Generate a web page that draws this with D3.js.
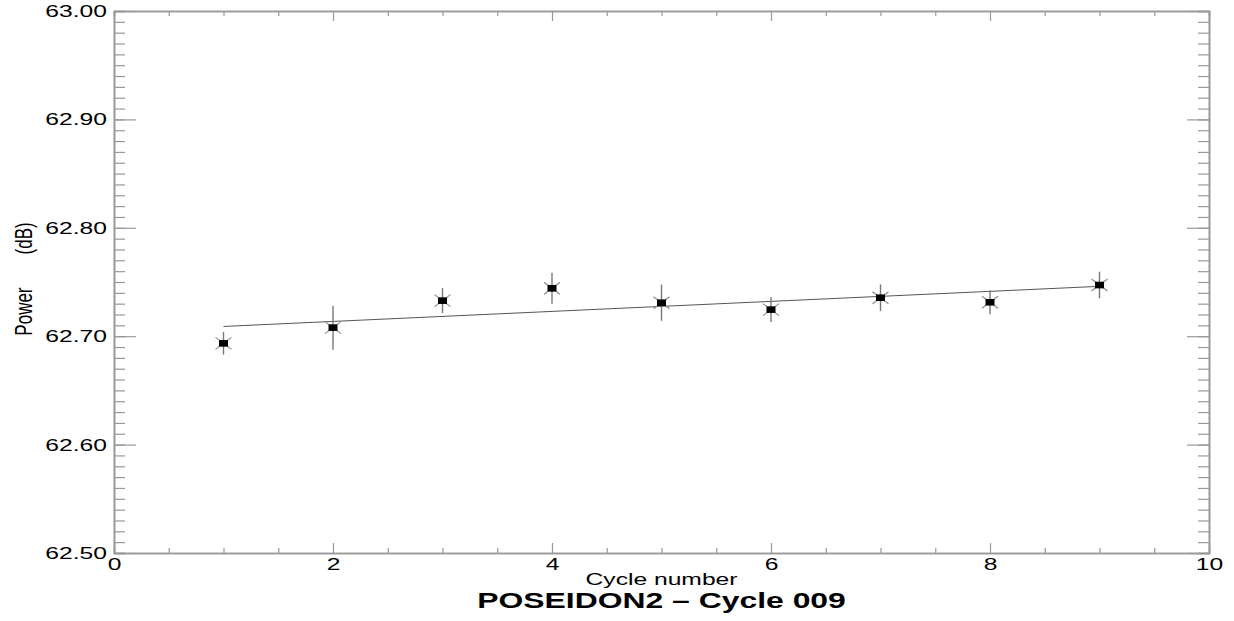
<!DOCTYPE html>
<html>
<head>
<meta charset="utf-8">
<script src="https://cdn.jsdelivr.net/npm/d3@7"></script>
<style>
  body { margin: 0; background: #fff; }
  text { font-family: "Liberation Sans", Arial, sans-serif; fill: #000; }
</style>
</head>
<body>
<svg id="chart"></svg>
<script>
// values
var cycles = [1, 2, 3, 4, 5, 6, 7, 8, 9];
var power = [62.6934, 62.7079, 62.7328, 62.7442, 62.7309, 62.7245, 62.7355, 62.7313, 62.7472];
var powerErr = [0.0104, 0.0203, 0.0115, 0.0143, 0.0167, 0.0115, 0.0123, 0.011, 0.0123];
var fitX = [1, 9];
var fitY = [62.709, 62.746];

var xTicks = [0, 2, 4, 6, 8, 10];
var xMinor = [0.5, 1, 1.5, 2.5, 3, 3.5, 4.5, 5, 5.5, 6.5, 7, 7.5, 8.5, 9, 9.5];
var yTicks = [62.5, 62.6, 62.7, 62.8, 62.9, 63.0];
var yMinor = d3.range(62.5, 63.0001, 0.01);

var W = 1234, H = 621;
var margin = { top: 11, right: 25, bottom: 68, left: 114 },
    width = W - margin.left - margin.right,
    height = H - margin.top - margin.bottom;

var stretch = 1.45; // the original text is stretched sideways

var svg = d3.select("#chart")
    .attr("width", W)
    .attr("height", H)
    .append("g")
    .attr("transform", "translate(" + margin.left + "," + margin.top + ")");

var x = d3.scaleLinear().domain([0, 10]).range([0, width]);
var y = d3.scaleLinear().domain([62.5, 63.0]).range([height, 0]);

var axisColor = "#999";

function styleAxis(g) {
    g.selectAll("path.domain").attr("stroke", axisColor).attr("stroke-width", 1.6);
    g.selectAll(".tick line").attr("stroke", axisColor).attr("stroke-width", 1.2);
}

// minor ticks
svg.append("g").call(d3.axisLeft(y).tickValues(yMinor).tickSize(-11).tickFormat("")).call(styleAxis);
svg.append("g").attr("transform", "translate(" + width + ",0)")
    .call(d3.axisRight(y).tickValues(yMinor).tickSize(-11).tickFormat("")).call(styleAxis);
svg.append("g").attr("transform", "translate(0," + height + ")")
    .call(d3.axisBottom(x).tickValues(xMinor).tickSize(-5).tickFormat("")).call(styleAxis);
svg.append("g")
    .call(d3.axisTop(x).tickValues(xMinor).tickSize(-5).tickFormat("")).call(styleAxis);

// major ticks
var yAxis = svg.append("g")
    .call(d3.axisLeft(y).tickValues(yTicks).tickSizeInner(-22).tickSizeOuter(0).tickPadding(7).tickFormat(d3.format(".2f")))
    .call(styleAxis);
yAxis.selectAll("text")
    .attr("font-size", 17)
    .attr("font-family", "Liberation Sans, Arial, sans-serif")
    .attr("x", -7 / stretch)
    .attr("transform", "scale(" + stretch + ",1)");

svg.append("g").attr("transform", "translate(" + width + ",0)")
    .call(d3.axisRight(y).tickValues(yTicks).tickSizeInner(-22).tickSizeOuter(0).tickFormat(""))
    .call(styleAxis);

var xAxis = svg.append("g").attr("transform", "translate(0," + height + ")")
    .call(d3.axisBottom(x).tickValues(xTicks).tickSizeInner(-10).tickSizeOuter(0).tickPadding(5).tickFormat(d3.format("d")))
    .call(styleAxis);
xAxis.selectAll("text")
    .attr("font-size", 17)
    .attr("font-family", "Liberation Sans, Arial, sans-serif")
    .attr("transform", "scale(" + stretch + ",1)");

svg.append("g")
    .call(d3.axisTop(x).tickValues(xTicks).tickSizeInner(-10).tickSizeOuter(0).tickFormat(""))
    .call(styleAxis);

// fit line
svg.append("path")
    .datum(d3.zip(fitX, fitY))
    .attr("fill", "none")
    .attr("stroke", "#555")
    .attr("stroke-width", 1)
    .attr("d", d3.line()
        .x(function (d) { return x(d[0]); })
        .y(function (d) { return y(d[1]); }));

var pts = cycles.map(function (c, i) {
    return { x: c, y: power[i], e: powerErr[i] };
});

var pt = svg.append("g").selectAll("g")
    .data(pts)
    .join("g")
    .attr("transform", function (d) { return "translate(" + x(d.x) + "," + y(d.y) + ")"; });

// error bars
pt.append("line")
    .attr("x1", 0).attr("x2", 0)
    .attr("y1", function (d) { return y(d.y + d.e) - y(d.y); })
    .attr("y2", function (d) { return y(d.y - d.e) - y(d.y); })
    .attr("stroke", "#777")
    .attr("stroke-width", 1.4);

// x marks
pt.append("path")
    .attr("d", "M-8,-6L8,6M-8,6L8,-6")
    .attr("stroke", "#888")
    .attr("stroke-width", 1.1);

pt.append("rect")
    .attr("x", -4.5).attr("y", -3.3)
    .attr("width", 9).attr("height", 6.6)
    .attr("fill", "#000");

// labels
svg.append("text")
    .attr("transform", "translate(" + (width / 2) + "," + (height + 32) + ") scale(" + stretch + ",1)")
    .attr("text-anchor", "middle")
    .attr("font-size", 17)
    .text("Cycle number");

svg.append("text")
    .attr("transform", "translate(" + (width / 2) + "," + (height + 55) + ") scale(" + stretch + ",1)")
    .attr("text-anchor", "middle")
    .attr("font-size", 22)
    .attr("font-weight", "bold")
    .text("POSEIDON2 \u2013 Cycle 009");

svg.append("text")
    .attr("transform", "translate(" + (-82) + "," + (279 - margin.top) + ") scale(" + stretch + ",1) rotate(-90)")
    .attr("text-anchor", "middle")
    .attr("font-size", 17)
    .style("white-space", "pre")
    .text("Power       (dB)");
</script>
</body>
</html>
